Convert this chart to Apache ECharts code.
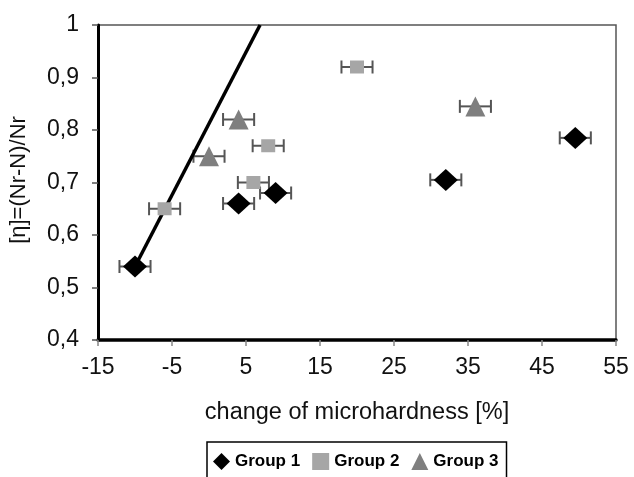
<!DOCTYPE html>
<html>
<head>
<meta charset="utf-8">
<script src="https://cdn.jsdelivr.net/npm/echarts@6/dist/echarts.min.js"></script>
<style>
html,body{margin:0;padding:0;background:#fff;}
#chart{width:634px;height:477px;}
</style>
</head>
<body>
<div id="chart"></div>
<script>
const xTickValues = [-15, -5, 5, 15, 25, 35, 45, 55];
const group1X = [-10, 4, 9, 32, 49.5];
const group1Y = [0.54, 0.66, 0.68, 0.705, 0.785];
const group2X = [-6, 6, 8, 20];
const group2Y = [0.65, 0.70, 0.77, 0.92];
const group3X = [0, 4, 36];
const group3Y = [0.75, 0.82, 0.845];
const xError = 2.1;
const trendX = [-10, 6.9];
const trendY = [0.54, 1.0];

function pairs(xs, ys) { return xs.map((x, i) => [x, ys[i]]); }

const font = 'Arial, "Liberation Sans", sans-serif';

function errorSeries(xs, ys) {
  return {
    type: 'custom',
    silent: true,
    z: 1,
    data: xs.map((x, i) => [x, ys[i], xError]),
    renderItem: function (params, api) {
      const x = api.value(0), y = api.value(1), e = api.value(2);
      const l = api.coord([x - e, y]);
      const r = api.coord([x + e, y]);
      const h = 6.5;
      const style = { stroke: '#555', lineWidth: 2, fill: null };
      return {
        type: 'group',
        children: [
          { type: 'line', shape: { x1: l[0], y1: l[1], x2: r[0], y2: r[1] }, style: style },
          { type: 'line', shape: { x1: l[0], y1: l[1] - h, x2: l[0], y2: l[1] + h }, style: style },
          { type: 'line', shape: { x1: r[0], y1: r[1] - h, x2: r[0], y2: r[1] + h }, style: style }
        ]
      };
    }
  };
}

const chart = echarts.init(document.getElementById('chart'));
chart.setOption({
  animation: false,
  backgroundColor: '#fff',
  grid: { left: 98, right: 18, top: 25, bottom: 137, show: true, borderColor: '#555', borderWidth: 1.5, containLabel: false },
  xAxis: {
    type: 'value', min: -15, max: 55,
    splitLine: { show: false },
    axisLine: { onZero: false, lineStyle: { color: '#000', width: 3.5 } },
    axisTick: { show: true, customValues: xTickValues, length: 6, lineStyle: { color: '#888', width: 1.5 } },
    axisLabel: { customValues: xTickValues, margin: 16, color: '#111', fontSize: 23, fontFamily: font }
  },
  yAxis: {
    type: 'value', min: 0.4, max: 1, interval: 0.1,
    splitLine: { show: false },
    axisLine: { onZero: false, lineStyle: { color: '#000', width: 3 } },
    axisTick: { show: true, length: 6, lineStyle: { color: '#555', width: 1.5 } },
    axisLabel: {
      margin: 19, color: '#111', fontSize: 23, fontFamily: font,
      formatter: v => (Math.abs(v - 1) < 1e-9 ? '1' : v.toFixed(1).replace('.', ','))
    }
  },
  legend: {
    data: ['Group 1', 'Group 2', 'Group 3'],
    left: 207, top: 442,
    orient: 'horizontal',
    padding: [11, 8, 22, 6],
    itemGap: 12,
    itemWidth: 17, itemHeight: 17,
    itemTextGap: 4,
    borderColor: '#000', borderWidth: 1.5,
    textStyle: { fontSize: 17, fontWeight: 'bold', color: '#000', fontFamily: font }
  },
  graphic: [
    { type: 'text', x: 357, y: 413, style: { text: 'change of microhardness [%]', align: 'center', verticalAlign: 'middle', font: '23.5px ' + font, fill: '#111' } },
    { type: 'text', x: 19, y: 180, rotation: Math.PI / 2, style: { text: '[η]=(Nr-N)/Nr', align: 'center', verticalAlign: 'middle', font: '22px ' + font, fill: '#111' } }
  ],
  series: [
    {
      name: 'trend', type: 'line', data: pairs(trendX, trendY), symbol: 'none', z: 3,
      lineStyle: { color: '#000', width: 3.5 }, silent: true
    },
    errorSeries(group1X, group1Y),
    errorSeries(group2X, group2Y),
    errorSeries(group3X, group3Y),
    { name: 'Group 1', type: 'scatter', data: pairs(group1X, group1Y), symbol: 'diamond', symbolSize: [24, 22], z: 5, itemStyle: { color: '#000', opacity: 1 } },
    { name: 'Group 2', type: 'scatter', data: pairs(group2X, group2Y), symbol: 'rect', symbolSize: [14, 13], z: 5, itemStyle: { color: '#a6a6a6', opacity: 1 } },
    { name: 'Group 3', type: 'scatter', data: pairs(group3X, group3Y), symbol: 'triangle', symbolSize: [20, 20], z: 5, itemStyle: { color: '#7f7f7f', opacity: 1 } }
  ]
});
</script>
</body>
</html>
